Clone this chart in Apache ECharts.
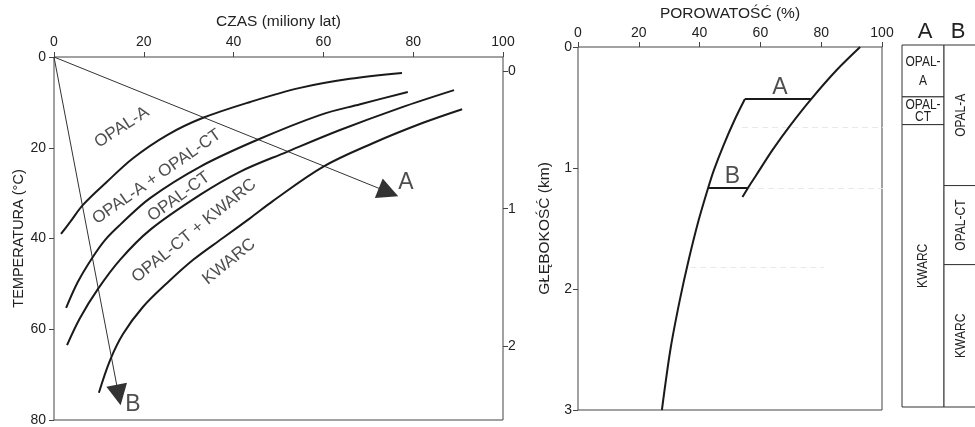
<!DOCTYPE html>
<html>
<head>
<meta charset="utf-8">
<script src="https://cdn.jsdelivr.net/npm/echarts@6/dist/echarts.min.js"></script>
<style>
html,body{margin:0;padding:0;background:#fff;}
#chart{width:975px;height:427px;}
</style>
</head>
<body>
<div id="chart"></div>
<script>
// ---- Left chart: time (Ma) vs temperature (°C) ----
const curveOpalA = [[1.56,39.0],[3.56,36.4],[6.46,32.6],[11.8,27.5],[17.6,22.3],[25.2,17.2],[33.2,13.4],[43.7,9.9],[54.8,6.8],[65.9,4.8],[77.5,3.5]];
const curveOpalACT = [[2.7,55.3],[5.3,49.6],[8.5,44.3],[11.4,40.3],[14.7,37.0],[21.4,31.1],[32.5,24.2],[45.2,18.3],[59.2,12.8],[68.2,10.4],[78.8,7.7]];
const curveOpalCT = [[2.9,63.5],[5.8,57.5],[9.8,51.1],[14.7,44.7],[21.4,38.1],[32.5,30.4],[41.4,25.3],[51.9,20.9],[63.7,16.1],[77.1,11.2],[89.1,7.3]];
const curveKwarc = [[10.0,74.0],[12.5,66.8],[15.4,61.0],[19.8,55.1],[25.2,49.8],[31.0,44.7],[37.6,39.9],[43.7,35.5],[48.8,31.7],[59.9,24.2],[71.0,19.0],[82.2,14.5],[90.9,11.5]];
const arrowA = [[0,0],[74.5,29.8]];
const arrowB = [[0,0],[14.4,74.5]];
const arrowLabels = [{name:'A', value:[78.4,27.6]},{name:'B', value:[17.6,76.6]}];
const zoneNames = ['OPAL-A','OPAL-A + OPAL-CT','OPAL-CT','OPAL-CT + KWARC','KWARC'];
const zonePos = [[15.1,15.5],[22.9,26.4],[27.8,30.8],[31.2,38.3],[39.0,45.1]];
const zoneRot = [33,35,36,39,39];

// ---- Right chart: porosity (%) vs depth (km) ----
const porosityA = [[92.8,0],[85.1,0.19],[76.7,0.43],[69.9,0.645],[64.0,0.85],[58.6,1.06],[55.7,1.173],[54.1,1.24]];
const porosityB = [[54.9,0.43],[51.5,0.603],[47.9,0.81],[44.7,1.017],[42.8,1.165],[39.7,1.43],[36.4,1.76],[33.5,2.09],[30.4,2.50],[27.6,3.0]];
const barA = [[54.9,0.43],[76.7,0.43]];
const barB = [[42.8,1.165],[55.8,1.165]];
const barLabels = [{name:'A', value:[66.4,0.34]},{name:'B', value:[50.8,1.07]}];
const ghostLines = [[[54,0.66],[103,0.66]],[[56,1.165],[104,1.165]],[[37,1.82],[81,1.82]]];

// ---- Columns A / B ----
const columnNames = ['A','B'];
const layerColumn = [0,0,0,1,1,1];
const layerTop = [0,0.43,0.66,0,1.165,1.82];
const layerBottom = [0.43,0.66,3.0,1.165,1.82,3.0];
const layerText = ['OPAL-\nA','OPAL-\nCT','KWARC','OPAL-A','OPAL-CT','KWARC'];
const layerVertical = [false,false,true,true,true,true];

const FONT = '"Liberation Sans", Arial, sans-serif';
const INK = '#1a1a1a';

const chart = echarts.init(document.getElementById('chart'), null, {renderer:'canvas'});

function lbl(margin){ return {fontFamily:FONT, fontSize:14, color:'#222', margin:margin}; }
const axisCommon = {
  axisLine:{show:false, onZero:false},
  axisTick:{show:true, length:5, lineStyle:{color:'#444', width:1}},
  splitLine:{show:false},
  nameTextStyle:{fontFamily:FONT, fontSize:15.5, color:'#222'}
};

function curveSeries(data){
  return {type:'line', xAxisIndex:0, yAxisIndex:0, data:data, smooth:0.35, symbol:'none',
    lineStyle:{color:INK, width:2}, z:3, silent:true};
}
const arrowPath = 'path://M5,0L10,22L0,22Z';
function arrowSeries(data){
  return {type:'lines', coordinateSystem:'cartesian2d', xAxisIndex:0, yAxisIndex:0, polyline:false,
    symbol:['none', arrowPath], symbolSize:[1,21], symbolKeepAspect:true,
    lineStyle:{color:'#333', width:1, opacity:1},
    itemStyle:{color:'#444'},
    data:[{coords:data}], z:2, silent:true};
}

const option = {
  animation:false,
  backgroundColor:'#fff',
  grid:[
    {left:54, top:57, width:449, height:363, show:true, borderColor:'#444', borderWidth:1, outerBoundsMode:'none', containLabel:false},
    {left:54, top:71, width:449, height:413, outerBoundsMode:'none', containLabel:false},
    {left:578, top:47, width:304, height:363, show:true, borderColor:'#444', borderWidth:1, outerBoundsMode:'none', containLabel:false},
    {left:902, top:45, width:84, height:362, outerBoundsMode:'none', containLabel:false}
  ],
  xAxis:[
    Object.assign({}, axisCommon, {gridIndex:0, type:'value', min:0, max:100, interval:20, position:'top',
      name:'CZAS (miliony lat)', nameLocation:'middle', nameGap:27, axisLabel:lbl(8)}),
    {gridIndex:1, type:'value', min:0, max:100, show:false},
    Object.assign({}, axisCommon, {gridIndex:2, type:'value', min:0, max:100, interval:20, position:'top',
      name:'POROWATOŚĆ (%)', nameLocation:'middle', nameGap:25, nameMoveOverlap:false, axisLabel:lbl(7)}),
    {gridIndex:3, type:'value', min:0, max:2, show:false},
    {gridIndex:3, type:'category', position:'top', axisLine:{show:false, onZero:false}, axisTick:{show:false},
      data:columnNames.map((n,i)=>({value:n, textStyle: i===1 ? {padding:[0,14,0,0]} : {padding:[0,0,0,4]}})),
      axisLabel:{fontFamily:FONT, fontSize:22, color:'#222', margin:2}}
  ],
  yAxis:[
    Object.assign({}, axisCommon, {gridIndex:0, type:'value', min:0, max:80, interval:20, inverse:true,
      name:'TEMPERATURA (°C)', nameLocation:'middle', nameGap:28, nameRotate:90,
      nameTextStyle:{fontFamily:FONT, fontSize:14.5, color:'#222'}, axisLabel:lbl(8)}),
    Object.assign({}, axisCommon, {gridIndex:1, type:'value', min:0, max:3, interval:1, inverse:true, position:'right',
      axisLabel:lbl(5)}),
    Object.assign({}, axisCommon, {gridIndex:2, type:'value', min:0, max:3, interval:1, inverse:true,
      name:'GŁĘBOKOŚĆ (km)', nameLocation:'middle', nameGap:25, nameRotate:90, axisLabel:lbl(6)}),
    {gridIndex:3, type:'value', min:0, max:3, inverse:true, show:false}
  ],
  series:[
    curveSeries(curveOpalA),
    curveSeries(curveOpalACT),
    curveSeries(curveOpalCT),
    curveSeries(curveKwarc),
    arrowSeries(arrowA),
    arrowSeries(arrowB),
    {type:'scatter', xAxisIndex:0, yAxisIndex:0, symbolSize:0, silent:true,
      data:arrowLabels,
      label:{show:true, position:'inside', formatter:'{b}', fontFamily:FONT, fontSize:23, color:'#222'}},
    {type:'scatter', xAxisIndex:0, yAxisIndex:0, symbolSize:0, silent:true,
      data:zoneNames.map((n,i)=>({name:n, value:zonePos[i], label:{rotate:zoneRot[i]}})),
      label:{show:true, position:'inside', formatter:'{b}', fontFamily:FONT, fontSize:17, color:'#222'}},
    // right chart
    {type:'line', xAxisIndex:2, yAxisIndex:2, data:porosityA, smooth:0.3, symbol:'none', lineStyle:{color:INK, width:2}, silent:true},
    {type:'line', xAxisIndex:2, yAxisIndex:2, data:porosityB, smooth:0.3, symbol:'none', lineStyle:{color:INK, width:2}, silent:true},
    {type:'line', xAxisIndex:2, yAxisIndex:2, data:barA, symbol:'none', lineStyle:{color:INK, width:2}, silent:true},
    {type:'line', xAxisIndex:2, yAxisIndex:2, data:barB, symbol:'none', lineStyle:{color:INK, width:2}, silent:true},
    {type:'lines', coordinateSystem:'cartesian2d', xAxisIndex:2, yAxisIndex:2, silent:true,
      lineStyle:{color:'#e8e8e8', width:1, type:[6,4], opacity:1}, symbol:'none',
      data:ghostLines.map(c=>({coords:c})), z:1},
    {type:'scatter', xAxisIndex:2, yAxisIndex:2, symbolSize:0, silent:true,
      data:barLabels,
      label:{show:true, position:'inside', formatter:'{b}', fontFamily:FONT, fontSize:23, color:'#222'}},
    // columns
    {type:'custom', xAxisIndex:3, yAxisIndex:3, silent:true, clip:false,
      data:layerColumn.map((c,i)=>[c, layerTop[i], layerBottom[i]]),
      renderItem:function(params, api){
        const c = api.value(0), t = api.value(1), b = api.value(2);
        const p1 = api.coord([c, t]);
        const p2 = api.coord([c+1, b]);
        const i = params.dataIndex;
        const h = p2[1]-p1[1];
        const cx = (p1[0]+p2[0])/2 - (c === 1 ? 4 : 0);
        return {type:'group', children:[
          {type:'rect', shape:{x:p1[0], y:p1[1], width:p2[0]-p1[0], height:h},
            style:{fill:'#fff', stroke:'#333', lineWidth:1}},
          {type:'text', x:cx, y:p1[1]+h/2, rotation: layerVertical[i] ? Math.PI/2 : 0,
            scaleX:0.8, scaleY:1,
            style:{text:layerText[i], align:'center', verticalAlign:'middle', fontFamily:FONT, fontSize:15,
              lineHeight:Math.min(19, h*0.46), fill:'#222'}}
        ]};
      }}
  ]
};
chart.setOption(option);
</script>
</body>
</html>
